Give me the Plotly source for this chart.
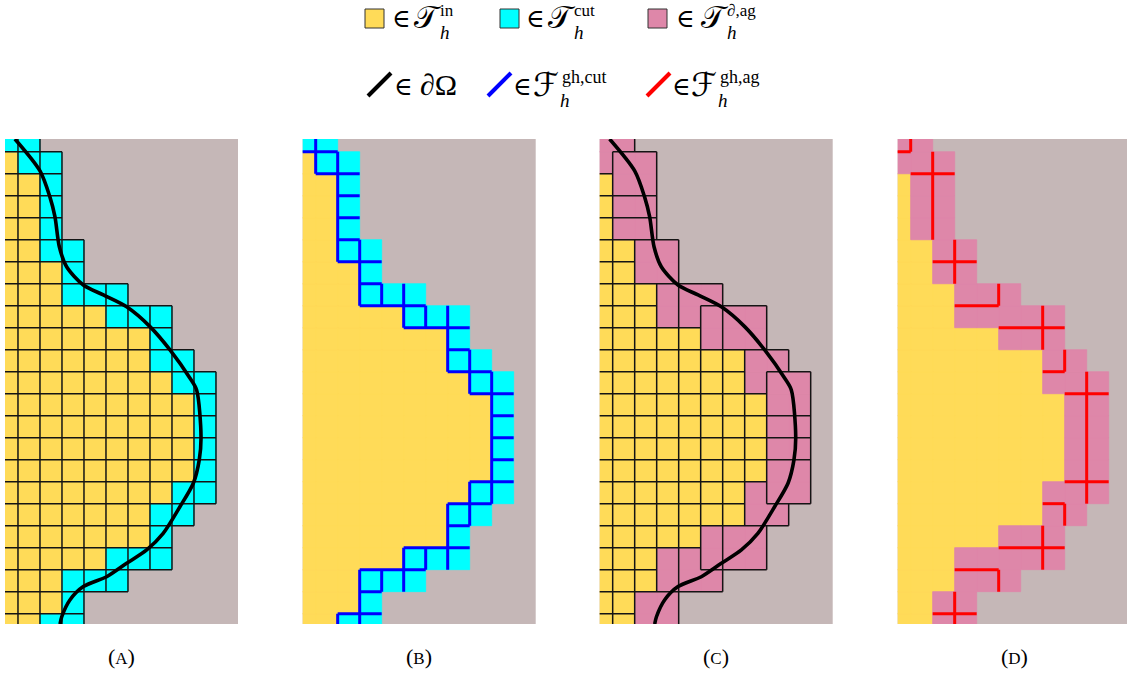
import plotly.graph_objects as go

# ---------------- data ----------------
# mesh rows 0..22 (top to bottom), columns 0..9 (left to right); row r spans v in [r-1, r], col c spans u in [c-1, c]
ROW_IDS = list(range(23))
# interior cells of each row: columns 0..IN_LAST_COL[r]  (-1 = none)
IN_LAST_COL = [-1, 0, 1, 1, 1, 1, 2, 2, 4, 6, 6, 7, 8, 8, 8, 8, 7, 6, 6, 4, 2, 2, 1]
# cut cells of each row
CUT_COLS = [[0, 1], [1, 2], [2], [2], [2], [2, 3], [3], [3, 4, 5], [5, 6, 7], [7], [7, 8],
            [8, 9], [9], [9], [9], [9], [8, 9], [7, 8], [7], [5, 6, 7], [3, 4, 5], [3], [2, 3]]
# boundary aggregates: lists of (row, col)
AGGREGATES = [
    [(0, 0), (0, 1), (1, 0)],
    [(1, 1), (1, 2), (2, 1), (2, 2)],
    [(3, 1), (3, 2)],
    [(4, 1), (4, 2)],
    [(5, 2), (5, 3), (6, 2), (6, 3)],
    [(7, 3), (8, 3)],
    [(7, 4), (7, 5), (8, 4)],
    [(8, 5), (9, 5)],
    [(8, 6), (8, 7), (9, 6), (9, 7)],
    [(10, 7), (10, 8), (11, 7)],
    [(11, 8), (11, 9), (12, 8), (12, 9)],
    [(13, 8), (13, 9)],
    [(14, 8), (14, 9)],
    [(15, 8), (15, 9), (16, 8), (16, 9)],
    [(16, 7), (17, 7), (17, 8)],
    [(18, 6), (18, 7), (19, 6), (19, 7)],
    [(18, 5), (19, 5)],
    [(19, 3), (20, 3)],
    [(19, 4), (20, 4), (20, 5)],
    [(21, 2), (21, 3), (22, 2), (22, 3)],
]
# domain boundary curve (mesh units)
CURVE_U = [-0.14, 1.0, 1.45, 1.68, 1.88, 2.21, 2.97, 3.88, 4.94, 6.0, 6.91, 7.82, 8.12, 8.32,
           8.24, 7.97, 7.36, 6.6, 5.85, 4.94, 4.03, 2.97, 2.36, 1.99, 1.91]
CURVE_V = [-0.58, 0.87, 2.05, 2.95, 4.32, 5.23, 6.06, 6.51, 7.05, 7.95, 9.01, 10.3, 10.83, 12.95,
           14.01, 15.07, 16.14, 17.35, 18.1, 18.71, 19.32, 19.77, 20.38, 21.14, 21.47]
PANEL_LABELS = ["A", "B", "C", "D"]
LEGEND_SETS = [("𝒯", "in"), ("𝒯", "cut"), ("𝒯", "∂,ag")]
LEGEND_FACETS = [("ℱ", "gh,cut"), ("ℱ", "gh,ag")]

# ---------------- styles ----------------
W, H = 1127, 675
YELLOW = "#FFDB58"
CYAN = "#00FFFF"
PINK = "#DE87A9"
BG = "#C5B7B7"
BLUE = "#0000FF"
RED = "#FF0000"
EDGE = "#141414"
SERIF = "Liberation Serif, DejaVu Serif, DejaVu Sans, serif"

PANEL_LEFT_PX = [5.0, 302.7, 599.7, 897.7]
PANEL_W_PX = 233.0
TOP_PX, BOT_PX = 139.0, 624.0
CELL_PX = 22.0
U_MIN = -0.59
V_MIN, V_MAX = -0.58, 21.47

# ---------------- classification ----------------
active = {}
for r in ROW_IDS:
    for c in range(0, IN_LAST_COL[r] + 1):
        active[(r, c)] = "in"
    for c in CUT_COLS[r]:
        active[(r, c)] = "cut"
agg_of = {}
for k, ag in enumerate(AGGREGATES):
    for cell in ag:
        agg_of[cell] = k


def cell_edges(r, c):
    return [("h", r - 1, c), ("h", r, c), ("v", c - 1, r), ("v", c, r)]


def edge_cells(e):
    kind, k, j = e
    if kind == "h":
        return (k, j), (k + 1, j)
    return (j, k), (j, k + 1)


def merged_segments(edges):
    xs, ys = [], []
    groups = {}
    for kind, k, j in edges:
        groups.setdefault((kind, k), []).append(j)
    for (kind, k), js in groups.items():
        js = sorted(js)
        runs = []
        start = prev = js[0]
        for j in js[1:]:
            if j == prev + 1:
                prev = j
            else:
                runs.append((start, prev))
                start = prev = j
        runs.append((start, prev))
        for a, b in runs:
            if kind == "h":
                xs += [a - 1, b, None]
                ys += [k, k, None]
            else:
                xs += [k, k, None]
                ys += [a - 1, b, None]
    return xs, ys


def cells_poly(cells):
    xs, ys = [], []
    for r, c in cells:
        xs += [c - 1, c, c, c - 1, c - 1, None]
        ys += [r - 1, r - 1, r, r, r - 1, None]
    return xs, ys


in_cells = [cl for cl, t in active.items() if t == "in"]
cut_cells = [cl for cl, t in active.items() if t == "cut"]
agg_cells = [cl for ag in AGGREGATES for cl in ag]
free_in = [cl for cl in in_cells if cl not in agg_of]

edges_A = set()
for cl in active:
    edges_A.update(cell_edges(*cl))

edges_B = set()
for e in edges_A:
    a, b = edge_cells(e)
    if a in active and b in active and ("cut" in (active[a], active[b])):
        edges_B.add(e)

edges_C = set()
for cl in free_in:
    edges_C.update(cell_edges(*cl))
for cl in agg_cells:
    for e in cell_edges(*cl):
        a, b = edge_cells(e)
        if agg_of.get(a) != agg_of.get(b):
            edges_C.add(e)

edges_D = set()
for cl in agg_cells:
    for e in cell_edges(*cl):
        a, b = edge_cells(e)
        if a in agg_of and b in agg_of and agg_of[a] == agg_of[b]:
            edges_D.add(e)

# ---------------- figure ----------------
fig = go.Figure()


def add_fill(cells, color, ax):
    xs, ys = cells_poly(cells)
    fig.add_trace(go.Scatter(x=xs, y=ys, mode="lines", fill="toself", fillcolor=color,
                             line=dict(color=color, width=0.8), hoverinfo="skip",
                             showlegend=False, xaxis="x" + ax, yaxis="y" + ax))


def add_edges(edges, color, width, ax):
    xs, ys = merged_segments(edges)
    fig.add_trace(go.Scatter(x=xs, y=ys, mode="lines", line=dict(color=color, width=width),
                             hoverinfo="skip", showlegend=False, xaxis="x" + ax, yaxis="y" + ax))


def add_curve(ax):
    fig.add_trace(go.Scatter(x=CURVE_U, y=CURVE_V, mode="lines",
                             line=dict(color="black", width=3.6, shape="spline", smoothing=0.8),
                             hoverinfo="skip", showlegend=False, xaxis="x" + ax, yaxis="y" + ax))


# (A)
add_fill(in_cells, YELLOW, "")
add_fill(cut_cells, CYAN, "")
add_edges(edges_A, EDGE, 1.5, "")
add_curve("")
# (B)
add_fill(in_cells, YELLOW, "2")
add_fill(cut_cells, CYAN, "2")
add_edges(edges_B, BLUE, 3.0, "2")
# (C)
add_fill(free_in, YELLOW, "3")
add_fill(agg_cells, PINK, "3")
add_edges(edges_C, EDGE, 1.5, "3")
add_curve("3")
# (D)
add_fill(free_in, YELLOW, "4")
add_fill(agg_cells, PINK, "4")
add_edges(edges_D, RED, 3.0, "4")

layout = dict(width=W, height=H, margin=dict(l=0, r=0, t=0, b=0),
              paper_bgcolor="white", plot_bgcolor=BG, showlegend=False)
ydom = [1 - BOT_PX / H, 1 - TOP_PX / H]
for i, left in enumerate(PANEL_LEFT_PX):
    right = min(left + PANEL_W_PX, W)
    u_max = U_MIN + (right - left) / CELL_PX
    sfx = "" if i == 0 else str(i + 1)
    layout["xaxis" + sfx] = dict(domain=[left / W, right / W], range=[U_MIN, u_max], visible=False,
                                 anchor="y" + sfx, fixedrange=True)
    layout["yaxis" + sfx] = dict(domain=ydom, range=[V_MAX, V_MIN], visible=False,
                                 anchor="x" + sfx, fixedrange=True)
fig.update_layout(**layout)


def px(x, y):
    return x / W, 1 - y / H


annotations = []
shapes = []


def text(t, x, y, size, anchor="left", italic=False):
    xp, yp = px(x, y)
    if italic:
        t = "<i>" + t + "</i>"
    annotations.append(dict(text=t, x=xp, y=yp, xref="paper", yref="paper", xanchor=anchor,
                            yanchor="middle", showarrow=False, borderpad=0,
                            font=dict(family=SERIF, size=size, color="black")))


# legend row 1: element sets
for (x0, color, xin, xT), (base, sup) in zip([(365, YELLOW, 391, 413),
                                              (500, CYAN, 525, 547),
                                              (648, PINK, 675, 700)], LEGEND_SETS):
    a0, b0 = px(x0, 9)
    a1, b1 = px(x0 + 19, 28)
    shapes.append(dict(type="rect", xref="paper", yref="paper", x0=a0, x1=a1, y0=b1, y1=b0,
                       fillcolor=color, line=dict(color="#333333", width=1)))
    text("∈", xin, 19, 25)
    text(base, xT, 18, 31)
    text(sup, xT + 26, 11, 17)
    text("h", xT + 26, 33, 19, italic=True)

# legend row 2: facet sets
for (x0, color) in [(368, "black"), (488, BLUE), (647, RED)]:
    a0, b0 = px(x0, 96)
    a1, b1 = px(x0 + 23, 73)
    shapes.append(dict(type="line", xref="paper", yref="paper", x0=a0, y0=b0, x1=a1, y1=b1,
                       line=dict(color=color, width=4)))
text("∈", 393, 86, 25)
text("∂Ω", 419, 85, 30)
for (xin, xF), (base, sup) in zip([(512, 532), (671, 690)], LEGEND_FACETS):
    text("∈", xin, 86, 25)
    text(base, xF, 85, 33)
    text(sup, xF + 29, 77, 18)
    text("h", xF + 27, 100, 19, italic=True)

# panel labels
for i, lab in enumerate(PANEL_LABELS):
    cx = PANEL_LEFT_PX[i] + PANEL_W_PX / 2
    text("(<span style='font-size:17px'>" + lab + "</span>)", cx, 656, 22, anchor="center")

fig.update_layout(annotations=annotations, shapes=shapes)
fig.write_html("out.html", config={"displayModeBar": False, "staticPlot": True},
               post_script="document.body.style.margin='0px';")
